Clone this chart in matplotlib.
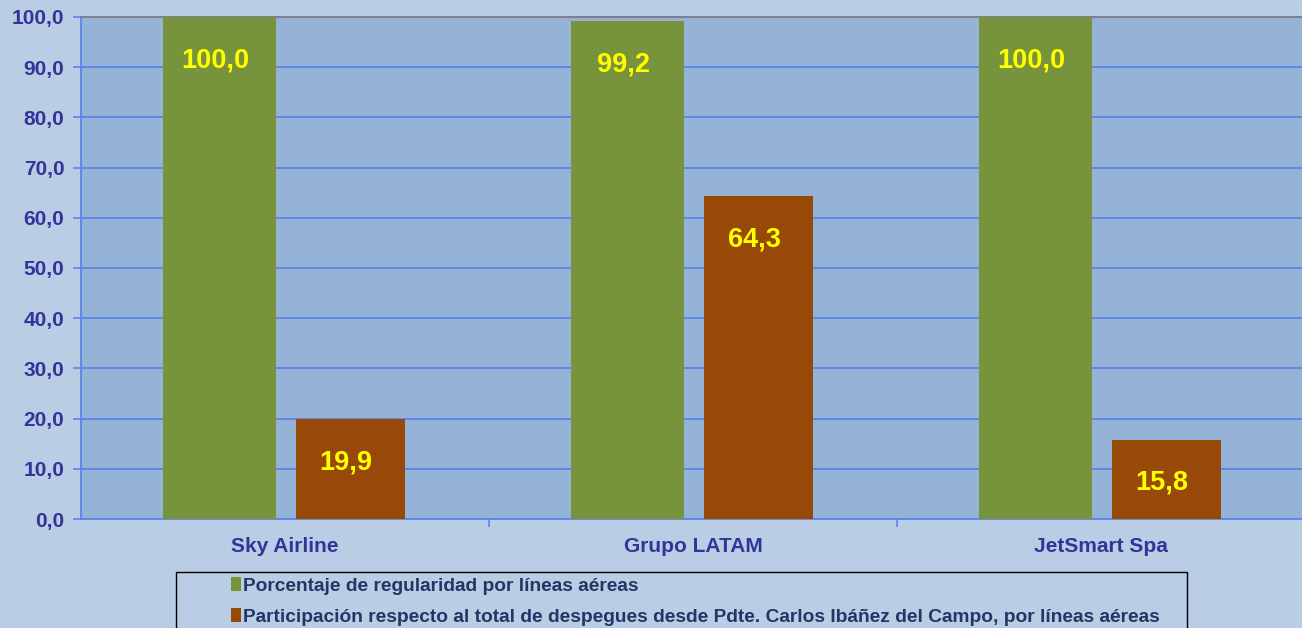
import matplotlib.pyplot as plt
from matplotlib.patches import Rectangle
import numpy as np

# datos
aerolineas = ["Sky Airline", "Grupo LATAM", "JetSmart Spa"]
regularidad = [100.0, 99.2, 100.0]
participacion = [19.9, 64.3, 15.8]
etiquetas_y = ["0,0", "10,0", "20,0", "30,0", "40,0", "50,0", "60,0", "70,0", "80,0", "90,0", "100,0"]
serie1 = "Porcentaje de regularidad por líneas aéreas"
serie2 = "Participación respecto al total de despegues desde Pdte. Carlos Ibáñez del Campo, por líneas aéreas"

plt.rcParams["font.family"] = ["Liberation Sans", "DejaVu Sans"]

fondo = "#b9cde5"
area = "#95b3d7"
verde = "#77933c"
naranja = "#984807"
azul_txt = "#333399"
azul_linea = "#5b84ea"

fig = plt.figure(figsize=(13.02, 6.28), dpi=100, facecolor=fondo)
ax = fig.add_axes([81 / 1302, 1 - 519 / 628, (1305 - 81) / 1302, 502 / 628])
ax.set_facecolor(area)

x = np.arange(len(aerolineas))
b1 = ax.bar(x - 0.16, regularidad, width=0.277, color=verde, zorder=3, label=serie1)
b2 = ax.bar(x + 0.16, participacion, width=0.267, color=naranja, zorder=3, label=serie2)

#etiquetas de valores
for barras, vals in ((b1, regularidad), (b2, participacion)):
    for r, v in zip(barras, vals):
        ax.annotate(f"{v:.1f}".replace(".", ","), (r.get_x() + r.get_width() / 2, v),
                    xytext=(-3, -31), textcoords="offset points", ha="center", va="center",
                    color="#ffff00", fontsize=19.5, fontweight="bold", zorder=4)

ax.set_ylim(0, 100)
ax.set_xlim(-0.5, 2.5)
ax.set_yticks(np.arange(0, 101, 10))
ax.set_yticklabels(etiquetas_y)
ax.set_xticks(x)
ax.set_xticklabels(aerolineas)
ax.set_xticks([0.5, 1.5], minor=True)
ax.tick_params(axis="x", which="major", length=0, pad=13, labelsize=15, labelcolor=azul_txt)
ax.tick_params(axis="x", which="minor", length=6, color=azul_linea, width=1.2)
ax.tick_params(axis="y", length=6, color=azul_linea, width=1.2, pad=6, labelsize=15, labelcolor=azul_txt)
for t in ax.get_xticklabels() + ax.get_yticklabels():
    t.set_fontweight("bold")

ax.grid(axis="y", color=azul_linea, linewidth=1.3, zorder=1)
ax.set_axisbelow(True)
for s in ["left", "bottom"]:
    ax.spines[s].set_color(azul_linea)
    ax.spines[s].set_linewidth(1.3)
ax.spines["top"].set_color("#7f7f8f")
ax.spines["top"].set_linewidth(1.5)
ax.spines["right"].set_visible(False)

#cuadro de leyenda
fig.patches.append(Rectangle((176 / 1302, -0.02), (1187 - 176) / 1302, 0.02 + 56 / 628,
                             transform=fig.transFigure, facecolor="none", edgecolor="black",
                             linewidth=1))
leg = fig.legend(handles=[b1, b2], loc="upper left", bbox_to_anchor=(227 / 1302, 1 - 573 / 628),
                 frameon=False, fontsize=13.8, handlelength=0.55, handleheight=0.75,
                 handletextpad=0.08, labelspacing=0.72, borderaxespad=0, borderpad=0.2)
for t in leg.get_texts():
    t.set_color("#1f3864")
    t.set_fontweight("bold")

plt.savefig("out.png", dpi=100, facecolor=fondo)
